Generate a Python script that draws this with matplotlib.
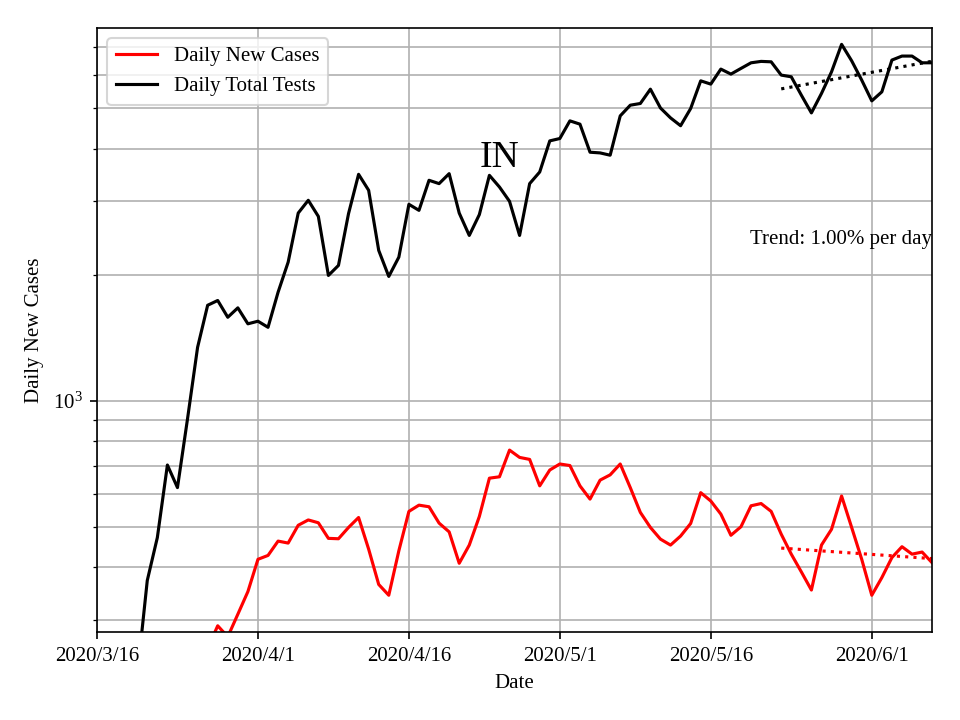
import numpy as np
import pandas as pd
import matplotlib
matplotlib.use("Agg")
import matplotlib.pyplot as plt
import matplotlib.dates as mdates

plt.rcParams['font.family'] = ['Liberation Serif', 'DejaVu Serif']
plt.rcParams['mathtext.fontset'] = 'stix'

# ========== Data ==========
tests_start = '2020-03-20'
daily_tests = [220, 372, 471, 702, 620, 905, 1341, 1690, 1735, 1582,
               1666, 1526, 1548, 1497, 1816, 2142, 2806, 3010, 2755, 1991,
               2104, 2797, 3472, 3180, 2285, 1980, 2202, 2944, 2848, 3360,
               3299, 3485, 2806, 2481, 2782, 3453, 3238, 2993, 2481, 3299,
               3517, 4173, 4228, 4659, 4575, 3921, 3906, 3857, 4788, 5078,
               5126, 5546, 5000, 4736, 4536, 4986, 5806, 5702, 6193, 6025,
               6216, 6411, 6461, 6446, 5992, 5936, 5366, 4867, 5416, 6101,
               7096, 6482, 5829, 5200, 5465, 6508, 6653, 6653, 6411, 6411]

cases_start = '2020-03-27'
daily_cases = [256, 290, 273, 309, 350, 418, 427, 462, 457, 504,
               519, 511, 469, 468, 498, 526, 442, 364, 343, 438,
               544, 563, 558, 510, 486, 409, 452, 529, 653, 658,
               762, 732, 724, 626, 683, 706, 700, 626, 582, 646,
               665, 706, 620, 541, 498, 467, 452, 475, 509, 603,
               576, 536, 477, 500, 561, 568, 544, 480, 430, 390,
               353, 452, 493, 592, 498, 418, 343, 378, 422, 448,
               430, 435, 410]

trend_days = 16
trend_text = 'Trend: 1.00% per day'
region = 'IN'

tests_dates = pd.date_range(tests_start, periods=len(daily_tests), freq='D')
cases_dates = pd.date_range(cases_start, periods=len(daily_cases), freq='D')


def trend_line(dates, values, n):
    """Ajustement exponentiel sur les n derniers jours."""
    x = np.arange(n)
    coef = np.polyfit(x, np.log(values[-n:]), 1)
    return dates[-n:], np.exp(np.polyval(coef, x))


# ========== Graphe ==========
fig, ax = plt.subplots(figsize=(6.4, 4.8), dpi=150)
ax.plot(cases_dates, daily_cases, 'r-', label='Daily New Cases')
ax.plot(tests_dates, daily_tests, 'k-', label='Daily Total Tests')

td, tv = trend_line(cases_dates, np.array(daily_cases), trend_days)
ax.plot(td, tv, 'r:')
td, tv = trend_line(tests_dates, np.array(daily_tests), trend_days)
ax.plot(td, tv, 'k:')

ax.set_yscale('log')
ax.set_xlim(pd.Timestamp('2020-03-16'), tests_dates[-1])
ax.set_ylim(280, 7760)

ax.xaxis.set_major_locator(mdates.DayLocator(bymonthday=[1, 16]))
ax.xaxis.set_major_formatter(plt.FuncFormatter(
    lambda v, pos: '{0.year}/{0.month}/{0.day}'.format(mdates.num2date(v))))

ax.text(pd.Timestamp('2020-04-25'), 3800, region, fontsize=18,
        ha='center', va='center')
ax.text(tests_dates[-1], 2420, trend_text, ha='right', va='center')

ax.set_xlabel('Date')
ax.set_ylabel('Daily New Cases')
ax.grid(True, which='both')
ax.legend(loc='upper left')

fig.subplots_adjust(left=0.101, right=0.971, bottom=0.122, top=0.961)
fig.savefig('out.png')
